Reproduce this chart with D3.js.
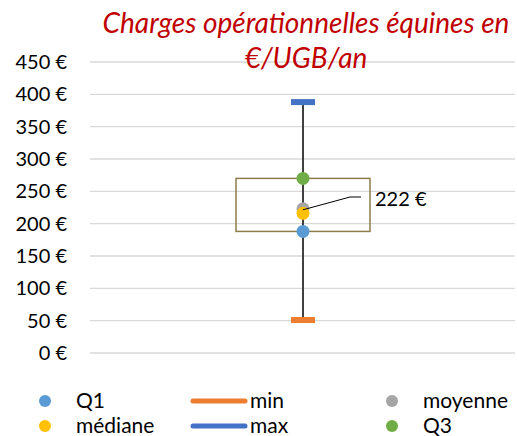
<!DOCTYPE html>
<html>
<head>
<meta charset="utf-8">
<script src="https://cdn.jsdelivr.net/npm/d3@7"></script>
<style>
body { margin: 0; background: #fff; }
text { font-family: Lato, "Open Sans", sans-serif; }
</style>
</head>
<body>
<svg id="chart" width="517" height="436"></svg>
<script>
// stats values (€/UGB/an)
var statNames = ["Q1", "médiane", "moyenne", "Q3"];
var statValues = [188, 216, 223, 270];
var statColors = ["#5B9BD5", "#FFC000", "#A5A5A5", "#70AD47"];
var minValue = 51;
var maxValue = 388;
var meanLabel = "222 €";
var yTicks = [0, 50, 100, 150, 200, 250, 300, 350, 400, 450];

var legendItems = [
	{ name: "Q1", type: "dot", color: "#5B9BD5" },
	{ name: "min", type: "line", color: "#ED7D31" },
	{ name: "moyenne", type: "dot", color: "#A5A5A5" },
	{ name: "médiane", type: "dot", color: "#FFC000" },
	{ name: "max", type: "line", color: "#4472C4" },
	{ name: "Q3", type: "dot", color: "#70AD47" }
];

var svg = d3.select("#chart");
var y = d3.scaleLinear().domain([0, 450]).range([353, 62]);
var cx = 303;

// gridlines
svg.append("g").selectAll("line").data(yTicks).enter().append("line")
	.attr("x1", 90).attr("x2", 515)
	.attr("y1", function(d){ return y(d); }).attr("y2", function(d){ return y(d); })
	.attr("stroke", "#D9D9D9").attr("stroke-width", 1.3);

// y axis labels
var yAxis = d3.axisLeft(y).tickValues(yTicks).tickSize(0).tickPadding(0)
	.tickFormat(function(d){ return d + " €"; });
var ga = svg.append("g").attr("transform", "translate(67,0)").call(yAxis);
ga.select(".domain").remove();
ga.selectAll("text").attr("font-size", 20).attr("fill", "#000")
	.style("font-family", "Lato, sans-serif");

// title
var title = svg.append("text").attr("text-anchor", "middle")
	.attr("font-style", "italic").attr("font-size", 28).attr("fill", "#C00000");
title.append("tspan").attr("x", 306).attr("y", 33).text("Charges opérationnelles équines en");
title.append("tspan").attr("x", 306).attr("y", 68).text("€/UGB/an");

// box
svg.append("rect")
	.attr("x", 236).attr("width", 134)
	.attr("y", y(statValues[3])).attr("height", y(statValues[0]) - y(statValues[3]))
	.attr("fill", "none").attr("stroke", "#8C7D4B").attr("stroke-width", 1.5);

// whisker
svg.append("line").attr("x1", cx).attr("x2", cx)
	.attr("y1", y(maxValue)).attr("y2", y(minValue))
	.attr("stroke", "#404040").attr("stroke-width", 2);

// min / max bars
svg.append("rect").attr("x", cx - 12).attr("width", 24)
	.attr("y", y(maxValue) - 3).attr("height", 6).attr("fill", "#4472C4");
svg.append("rect").attr("x", cx - 12).attr("width", 24)
	.attr("y", y(minValue) - 3).attr("height", 6).attr("fill", "#ED7D31");

// stat points, draw mean below median like the original
var order = [3, 0, 2, 1];
svg.append("g").selectAll("circle").data(order).enter().append("circle")
	.attr("cx", cx).attr("cy", function(i){ return y(statValues[i]); })
	.attr("r", 6.5).attr("fill", function(i){ return statColors[i]; });

// label for mean
var my = y(statValues[2]);
svg.append("polyline")
	.attr("points", [[cx, my + 1], [350, 197], [361, 197]].map(function(p){ return p.join(","); }).join(" "))
	.attr("fill", "none").attr("stroke", "#000").attr("stroke-width", 1);
svg.append("text").attr("x", 375).attr("y", 206)
	.attr("font-size", 20).attr("fill", "#000").text(meanLabel);

// legend
var legendCols = [45, 191, 392];
var legendRows = [401, 426];
var lg = svg.append("g").selectAll("g").data(legendItems).enter().append("g")
	.attr("transform", function(d, i){ return "translate(" + legendCols[i % 3] + "," + legendRows[Math.floor(i / 3)] + ")"; });
lg.each(function(d){
	var g = d3.select(this);
	if(d.type === "dot"){
		g.append("circle").attr("r", 6).attr("fill", d.color);
		g.append("text").attr("x", 31).attr("y", 7).attr("font-size", 21).text(d.name);
	}else{
		g.append("line").attr("x1", 2).attr("x2", 54).attr("stroke", d.color)
			.attr("stroke-width", 5).attr("stroke-linecap", "round");
		g.append("text").attr("x", 59).attr("y", 7).attr("font-size", 21).text(d.name);
	}
});
</script>
</body>
</html>
